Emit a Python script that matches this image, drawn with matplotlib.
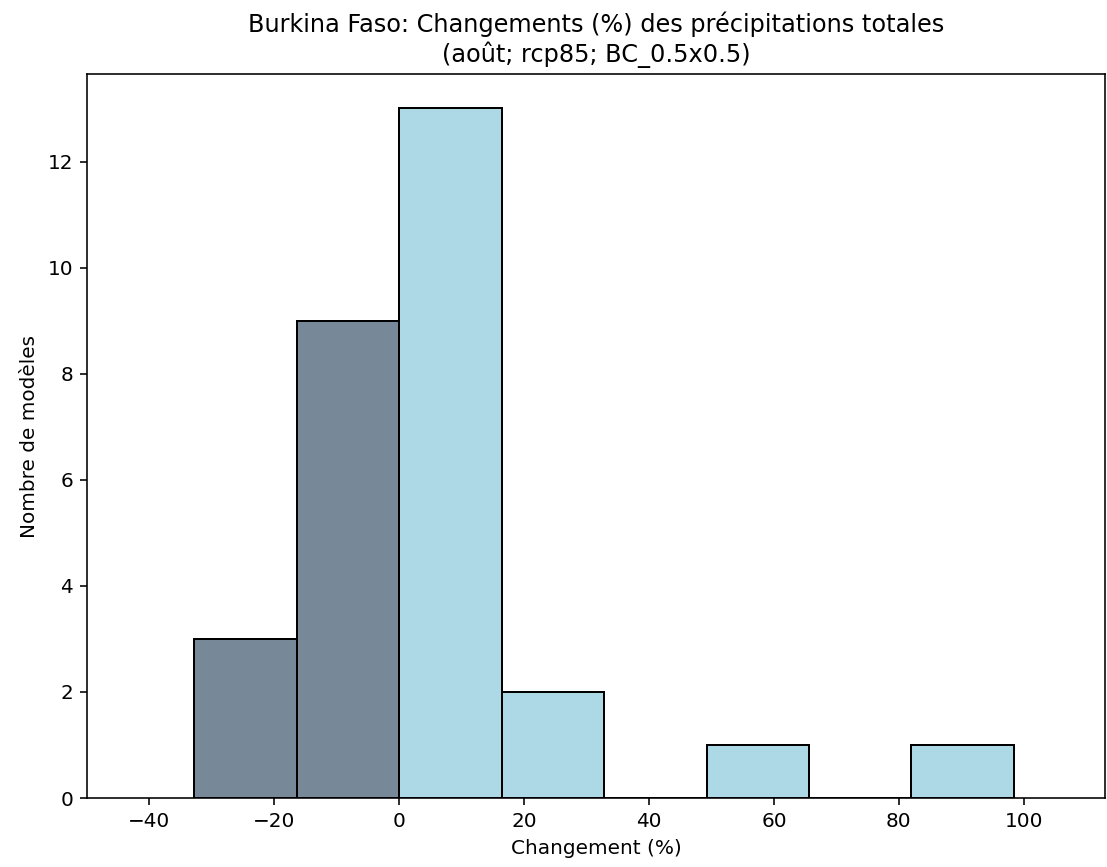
import matplotlib
matplotlib.use("Agg")
import matplotlib.pyplot as plt

# bin edges (%) and model counts per bin
bin_edges = [-32.8, -16.4, 0.0, 16.4, 32.8, 49.2, 65.6, 82.0, 98.4]
counts = [3, 9, 13, 2, 0, 1, 0, 1]

# negative changes in slate gray, positive in light blue
colors = ["lightslategray" if e < 0 else "lightblue" for e in bin_edges[:-1]]

fig = plt.figure(figsize=(1107 / 144, 867 / 144), dpi=144)
ax = fig.add_axes([87 / 1107, 69 / 867, 1018 / 1107, 724 / 867])

widths = [bin_edges[i + 1] - bin_edges[i] for i in range(len(counts))]
ax.bar(bin_edges[:-1], counts, width=widths, align="edge",
       color=colors, edgecolor="black", linewidth=1)

ax.set_xlim(-50, 113)
ax.set_title("Burkina Faso: Changements (%) des précipitations totales\n(août; rcp85; BC_0.5x0.5)")
ax.set_xlabel("Changement (%)")
ax.set_ylabel("Nombre de modèles")

fig.savefig("out.png", dpi=144)
